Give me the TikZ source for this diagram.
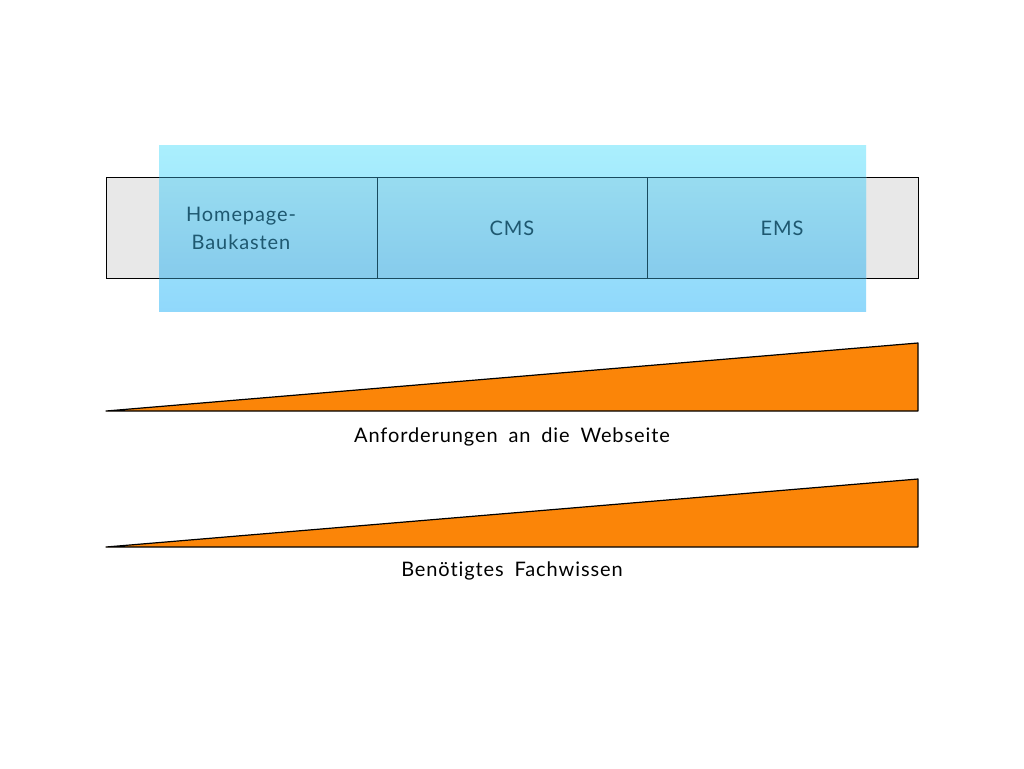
\documentclass[tikz,border=0pt]{standalone}
\usepackage{fontspec}
\setmainfont{Lato}[LetterSpace=4.5,WordSpace=1.8,Ligatures=NoCommon]
\begin{document}
\begin{tikzpicture}[x=1pt,y=-1pt,
  boxtext/.style={text=tealtext,font=\fontsize{20}{28}\selectfont,align=center},
  captext/.style={text=black,font=\fontsize{20}{24}\selectfont},
  wedge/.style={fill=wedgeorange,draw=black,line width=1.2pt,line join=round}]
\definecolor{grayfill}{RGB}{232,232,232}
\definecolor{ovtop}{RGB}{170,239,253}
\definecolor{ovbot}{RGB}{144,216,251}
\definecolor{intop}{RGB}{152,220,240}
\definecolor{inbot}{RGB}{134,203,236}
\definecolor{tealline}{RGB}{25,75,95}
\definecolor{tealtext}{RGB}{30,88,112}
\definecolor{wedgeorange}{RGB}{251,133,8}
\useasboundingbox[fill=white] (0,0) rectangle (1024,768);
% gray box
\fill[grayfill] (106,177) rectangle (918,278);
\draw[black,line width=1pt] (106,177) rectangle (918,278);
% overlay
\shade[top color=ovtop,bottom color=ovbot] (159,145) rectangle (866,311);
\shade[top color=intop,bottom color=inbot] (159,177) rectangle (866,278);
\draw[tealline,line width=1pt] (159,177) -- (866,177) (159,278) -- (866,278);
\draw[tealline,line width=1pt] (377,177) -- (377,278) (647,177) -- (647,278);
\node[boxtext] (hp) at (241,228) {Homepage-\\Baukasten};
\node[boxtext] (cms) at (512,228) {CMS};
\node[boxtext] (ems) at (782,228) {EMS};
% wedges
\draw[wedge] (106,411) -- (918,411) -- (918,343) -- cycle;
\node[captext] (anf) at (512,437) {Anforderungen an die Webseite};
\draw[wedge] (106,547) -- (918,547) -- (918,479) -- cycle;
\node[captext] (fach) at (512,571) {Benötigtes Fachwissen};
\end{tikzpicture}
\end{document}
